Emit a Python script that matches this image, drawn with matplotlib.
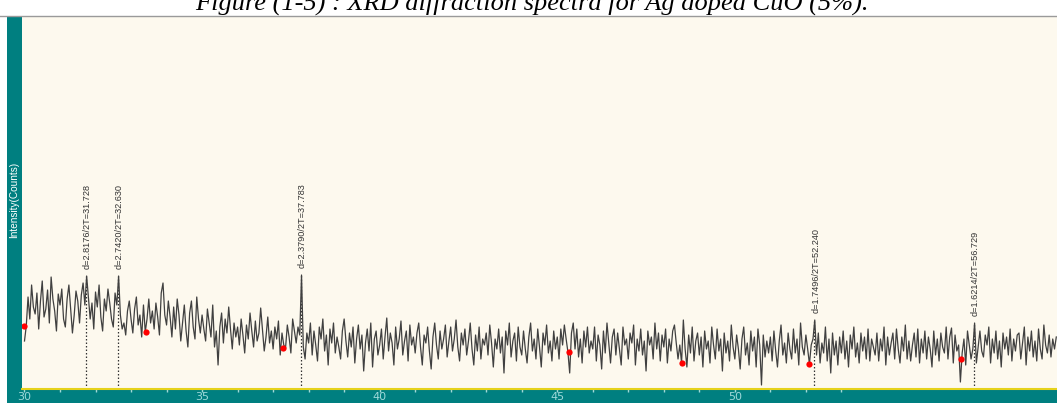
import numpy as np
import matplotlib
matplotlib.use("Agg")
import matplotlib.pyplot as plt
from matplotlib.patches import Rectangle
from matplotlib.ticker import FixedLocator

# 2-theta scan: start angle and step (degrees)
two_theta_start = 30.0
two_theta_step = 0.05

# Measured intensity (counts), one row per degree of 2-theta
intensity = [
    48, 63, 92, 70, 104, 82, 75, 96, 60, 88, 108, 72, 80, 99, 66, 112, 90, 78, 58, 95,
    84, 100, 70, 62, 90, 104, 80, 56, 74, 98, 88, 66, 94, 106, 84, 113, 92, 70, 86, 60,
    97, 82, 104, 72, 58, 90, 78, 100, 86, 70, 62, 96, 84, 113, 74, 60, 66, 54, 78, 88,
    70, 56, 80, 92, 64, 74, 52, 84, 57, 70, 90, 66, 78, 60, 86, 72, 54, 96, 106, 74,
    64, 88, 72, 52, 82, 60, 90, 74, 48, 66, 84, 58, 42, 76, 88, 62, 50, 92, 70, 56,
    74, 60, 48, 80, 66, 52, 84, 42, 58, 24, 62, 76, 46, 70, 56, 82, 60, 40, 66, 52,
    62, 44, 70, 54, 36, 64, 50, 76, 58, 42, 68, 48, 56, 81, 60, 38, 52, 72, 46, 58,
    40, 62, 50, 68, 34, 56, 44, 41, 64, 52, 36, 70, 58, 46, 62, 54, 114, 42, 30, 56,
    46, 66, 34, 58, 44, 28, 62, 50, 70, 38, 54, 24, 60, 46, 66, 36, 52, 42, 30, 58,
    70, 48, 32, 56, 42, 62, 26, 50, 64, 40, 54, 18, 46, 60, 38, 66, 22, 50, 58, 34,
    44, 60, 30, 52, 71, 38, 56, 46, 24, 62, 40, 50, 68, 34, 48, 58, 28, 64, 44, 52,
    36, 56, 66, 42, 24, 54, 46, 62, 38, 20, 52, 66, 44, 30, 58, 40, 50, 64, 32, 48,
    62, 38, 50, 69, 42, 28, 56, 44, 60, 34, 48, 66, 40, 24, 54, 38, 62, 30, 50, 44,
    56, 34, 64, 46, 22, 50, 40, 60, 36, 52, 16, 58, 44, 66, 32, 48, 56, 28, 62, 42,
    34, 58, 40, 26, 52, 66, 38, 50, 30, 60, 42, 22, 56, 44, 64, 36, 48, 28, 58, 40,
    52, 30, 60, 44, 64, 50, 37, 16, 56, 66, 40, 60, 32, 50, 26, 58, 42, 62, 36, 48,
    40, 62, 28, 54, 44, 20, 58, 36, 66, 46, 26, 52, 60, 34, 56, 40, 24, 62, 44, 50,
    30, 56, 46, 64, 24, 50, 38, 60, 34, 48, 18, 58, 44, 52, 30, 66, 40, 56, 28, 54,
    42, 60, 26, 50, 38, 58, 64, 46, 30, 44, 26, 69, 40, 22, 54, 36, 62, 28, 48, 56,
    34, 52, 22, 58, 40, 48, 26, 62, 44, 30, 60, 38, 50, 18, 56, 36, 48, 28, 64, 42,
    30, 54, 40, 20, 50, 62, 34, 46, 24, 58, 38, 52, 22, 60, 44, 4, 54, 32, 48, 36,
    52, 28, 58, 38, 22, 48, 64, 34, 46, 26, 56, 40, 30, 60, 36, 50, 24, 66, 42, 34,
    54, 40, 25, 44, 50, 69, 34, 56, 26, 46, 36, 62, 28, 50, 16, 56, 34, 48, 24, 52,
    36, 58, 30, 48, 22, 54, 40, 62, 32, 46, 26, 56, 38, 52, 30, 60, 28, 50, 42, 34,
    56, 28, 50, 38, 62, 24, 52, 34, 46, 56, 30, 60, 40, 26, 52, 38, 64, 30, 48, 28,
    44, 56, 32, 60, 26, 50, 36, 58, 30, 52, 40, 22, 58, 34, 50, 28, 56, 42, 36, 62,
    30, 52, 61, 26, 54, 38, 44, 7, 36, 50, 24, 58, 44, 30, 40, 66, 26, 42, 58, 38,
    32, 54, 44, 62, 26, 50, 36, 58, 30, 48, 22, 56, 40, 52, 34, 60, 28, 50, 38, 54,
    56, 30, 46, 62, 24, 52, 38, 58, 32, 48, 28, 60, 40, 30, 64, 44, 36, 54, 32, 50,
    40, 52,
]

# Background points (2-theta, counts)
bg_theta = [30.0, 33.42, 37.28, 45.33, 48.51, 52.09, 56.37]
bg_counts = [63, 57, 41, 37, 26, 25, 30]

# Identified peaks: 2-theta, d-spacing and peak top (counts)
peak_theta = [31.728, 32.630, 37.783, 52.240, 56.729]
peak_d = [2.8176, 2.7420, 2.3790, 1.7496, 1.6214]
peak_top = [113, 113, 114, 69, 66]

# Axis ticks
major_ticks = [30, 35, 40, 45, 50]
minor_ticks = list(range(30, 54))

teal = "#007f80"
cream = "#fdf9ee"
yellow = "#e6d21a"
tick_col = "#9fd9d9"

W, H = 1057, 403
fig = plt.figure(figsize=(W / 100, H / 100), dpi=100)
fig.patch.set_facecolor("white")

# Teal frame behind the plotting area
fig.patches.append(Rectangle((7 / W, 0), 1 - 7 / W, (H - 16) / H,
                             transform=fig.transFigure, facecolor=teal,
                             edgecolor="none", zorder=-10))

ax = fig.add_axes([22 / W, 14 / H, 1 - 22 / W, (389 - 16) / H])
ax.set_zorder(1)
ax.set_facecolor(cream)

theta = two_theta_start + two_theta_step * np.arange(len(intensity))
ax.plot(theta, intensity, color="#404040", lw=0.9, zorder=3)
ax.plot(bg_theta, bg_counts, "o", color="#ff0000", ms=4.5, mec="none", zorder=4)

for t, d, top in zip(peak_theta, peak_d, peak_top):
    ax.vlines(t, 0, top, colors="#333333", linestyles=(0, (1.2, 1.6)), lw=0.9, zorder=2)
    ax.annotate(f"d={d:.4f}/2T={t:.3f}", xy=(t, top), xytext=(1, 5),
                textcoords="offset points", rotation=90, ha="center", va="bottom",
                fontsize=6.6, color="#333333", family="Liberation Sans")

ax.set_xlim(29.93, 59.07)
ax.set_ylim(0, 373)

for s in ("left", "right", "top"):
    ax.spines[s].set_visible(False)
ax.spines["bottom"].set_color(yellow)
ax.spines["bottom"].set_linewidth(1.5)

ax.xaxis.set_major_locator(FixedLocator(major_ticks))
ax.xaxis.set_minor_locator(FixedLocator(minor_ticks))
ax.tick_params(axis="x", which="both", direction="out", colors=tick_col,
               length=2.5, width=1, labelsize=8, pad=0)
ax.set_yticks([])

# Top rule under the caption
fig.add_artist(plt.Line2D([0, 1], [1 - 16 / H, 1 - 16 / H], transform=fig.transFigure,
                          color="#9a9a9a", lw=1))

fig.text(14 / W, 1 - 200 / H, "Intensity(Counts)", rotation=90, color="white",
         fontsize=7.2, ha="center", va="center", family="Liberation Sans")

fig.text(532 / W, 1 - 10 / H,
         "Figure (1-5) : XRD diffraction spectra for Ag doped CuO (5%).",
         ha="center", va="baseline", fontsize=19, style="italic",
         family="Liberation Serif", color="black")

fig.savefig("out.png", dpi=100)
